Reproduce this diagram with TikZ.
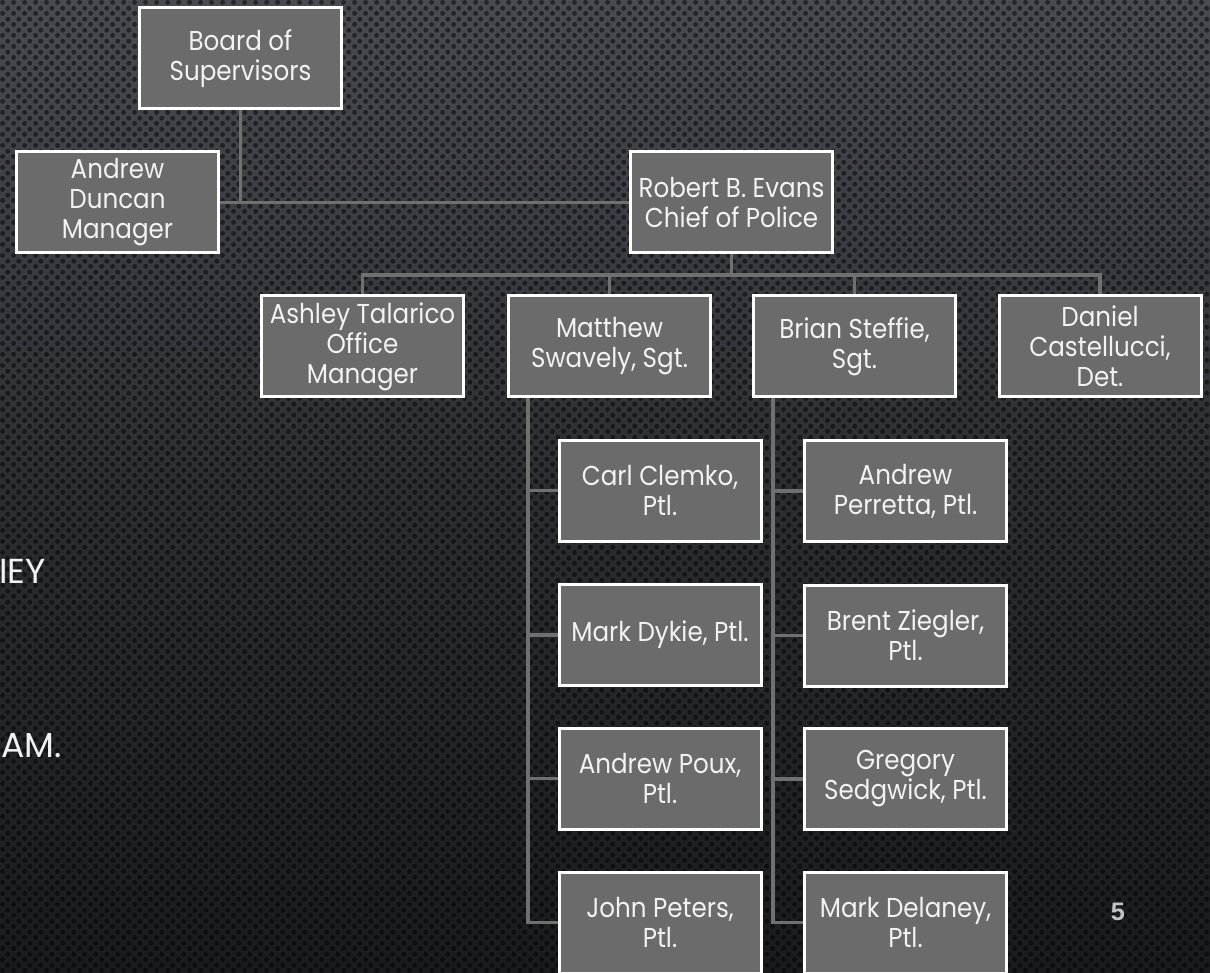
\documentclass[tikz,border=0pt]{standalone}
\usepackage{fontspec}
\setmainfont{Poppins}
\newfontfamily\boxfont[FakeStretch=0.9]{Poppins}
\newfontfamily\numfont{Liberation Sans}
\usetikzlibrary{patterns}
\definecolor{boxfill}{HTML}{6B6B6B}
\definecolor{boxtext}{HTML}{F2F2F2}
\definecolor{linegray}{HTML}{707070}
\definecolor{bgtop}{HTML}{484B50}
\definecolor{bgmid}{HTML}{2C2E32}
\definecolor{bgbot}{HTML}{1A1B1D}
\definecolor{pagenum}{HTML}{C4C4C4}
\pgfdeclarepatternformonly{hexdots}{\pgfqpoint{0pt}{0pt}}{\pgfqpoint{8pt}{8pt}}{\pgfqpoint{8pt}{8pt}}{%
  \pgfpathcircle{\pgfqpoint{2pt}{2pt}}{1.9pt}%
  \pgfpathcircle{\pgfqpoint{6pt}{6pt}}{1.9pt}%
  \pgfusepath{fill}}
\begin{document}
\begin{tikzpicture}[x=0.75pt,y=-0.75pt,
  box/.style={draw=white, line width=2.25pt, fill=boxfill, text=boxtext,
    minimum width=151.5pt, minimum height=75.75pt, inner sep=1pt, align=center,
    font=\boxfont\fontsize{20.5}{22.5}\selectfont},
  conn/.style={draw=linegray, line width=2.6pt},
  slidetext/.style={text=boxtext, font=\fontsize{26}{30}\selectfont, inner sep=0pt}]
% background
\useasboundingbox (0,0) rectangle (1210,973);
\shade[top color=bgtop, bottom color=bgbot, middle color=bgmid] (0,0) rectangle (1210,973);
\fill[pattern=hexdots, pattern color=black, fill opacity=0.5] (0,0) rectangle (1210,973);
% partly hidden slide text
\node[slidetext, anchor=base east] (t1) at (46,583) {IEY};
\node[slidetext, anchor=base west] (t2) at (1,757) {AM.};
\node[text=pagenum, font=\numfont\bfseries\fontsize{19}{22}\selectfont, inner sep=0pt, anchor=base] (pn) at (1118,920) {5};
% boxes
\node[box] (board) at (240.5,58.5) {Board of\\Supervisors};
\node[box] (duncan) at (117.5,202.5) {Andrew\\Duncan\\Manager};
\node[box] (evans) at (731.5,202.5) {Robert B. Evans\\Chief of Police};
\node[box] (ashley) at (362.5,346.5) {Ashley Talarico\\Office\\Manager};
\node[box] (matthew) at (609.5,346.5) {Matthew\\Swavely, Sgt.};
\node[box] (brian) at (854.5,346.5) {Brian Steffie,\\Sgt.};
\node[box] (daniel) at (1100,346.5) {Daniel\\Castellucci,\\Det.};
\node[box] (carl) at (660,490.5) {Carl Clemko,\\Ptl.};
\node[box] (dykie) at (660,635) {Mark Dykie, Ptl.};
\node[box] (poux) at (660,778.5) {Andrew Poux,\\Ptl.};
\node[box] (peters) at (660,922.5) {John Peters,\\Ptl.};
\node[box] (perretta) at (905.5,491) {Andrew\\Perretta, Ptl.};
\node[box] (ziegler) at (905.5,635.5) {Brent Ziegler,\\Ptl.};
\node[box] (sedgwick) at (905.5,779) {Gregory\\Sedgwick, Ptl.};
\node[box] (delaney) at (905.5,922.5) {Mark Delaney,\\Ptl.};
% connector helper coordinates
\coordinate (bus) at (0,275);
\coordinate (mtrunk) at (528,0);
\coordinate (btrunk) at (773,0);
% connectors
\draw[conn] (board.south) |- (evans.west);
\draw[conn] (duncan.east) -- (board.south |- duncan.east);
\draw[conn] (evans.south) -- (evans.south |- bus);
\draw[conn] (ashley.north) -- (ashley.north |- bus) -| (daniel.north);
\draw[conn] (matthew.north) -- (matthew.north |- bus);
\draw[conn] (brian.north) -- (brian.north |- bus);
\draw[conn] (matthew.south -| mtrunk) |- (peters.west);
\draw[conn] (mtrunk |- carl.west) -- (carl.west);
\draw[conn] (mtrunk |- dykie.west) -- (dykie.west);
\draw[conn] (mtrunk |- poux.west) -- (poux.west);
\draw[conn] (brian.south -| btrunk) |- (delaney.west);
\draw[conn] (btrunk |- perretta.west) -- (perretta.west);
\draw[conn] (btrunk |- ziegler.west) -- (ziegler.west);
\draw[conn] (btrunk |- sedgwick.west) -- (sedgwick.west);
\end{tikzpicture}
\end{document}
